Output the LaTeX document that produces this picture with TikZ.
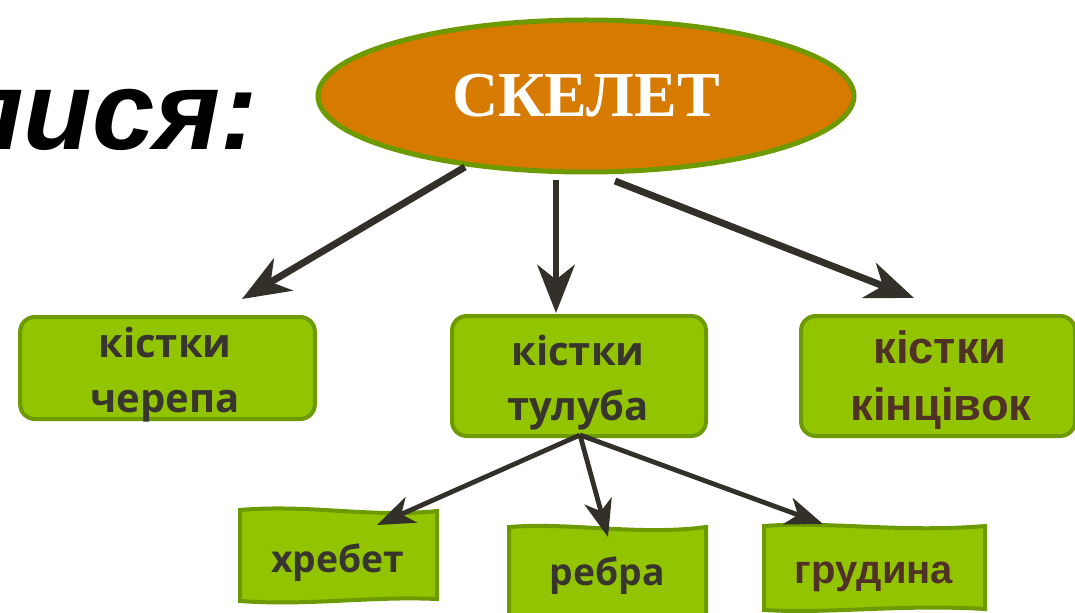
\documentclass[tikz,border=0pt]{standalone}
\usepackage{fontspec}
\setmainfont{Liberation Serif}
\newfontfamily\osans{Open Sans}
\newfontfamily\arsans{Liberation Sans}
\usetikzlibrary{shapes.geometric,arrows.meta}
\definecolor{leaf}{HTML}{93C400}
\definecolor{leafdark}{HTML}{6C9A00}
\definecolor{orangefill}{HTML}{D67A00}
\definecolor{inkdark}{HTML}{38342E}
\definecolor{inkbrown}{HTML}{4F3125}
\definecolor{arrowcol}{HTML}{33302A}
\tikzset{
  rbox/.style={draw=leafdark, fill=leaf, line width=3pt, rounded corners=11pt, inner sep=0pt},
  wbox/.style={draw=leafdark, fill=leaf, line width=3pt},
  bigarrow/.style={draw=arrowcol, line width=5.2pt, -{Stealth[length=36pt,width=28pt,inset=11pt]}},
  smallarrow/.style={draw=arrowcol, line width=3.6pt, -{Stealth[length=28pt,width=21pt,inset=8pt]}},
  lblA/.style={font=\osans\bfseries\fontsize{30pt}{36pt}\selectfont, text=inkdark, anchor=base, inner sep=0pt},
  lblB/.style={font=\arsans\bfseries\fontsize{34pt}{40pt}\selectfont, text=inkbrown, anchor=base, inner sep=0pt},
  lblC/.style={font=\osans\bfseries\fontsize{28pt}{34pt}\selectfont, text=inkdark, anchor=base, inner sep=0pt},
  lblD/.style={font=\arsans\bfseries\fontsize{30pt}{36pt}\selectfont, text=inkbrown, anchor=base, inner sep=0pt},
}
\begin{document}
\begin{tikzpicture}[x=0.75pt,y=-0.75pt]
\useasboundingbox (0,0) rectangle (1075,613);
\clip (0,0) rectangle (1075,613);
\fill[white] (0,0) rectangle (1075,613);

% title fragment
\node[font=\arsans\bfseries\itshape\fontsize{84pt}{90pt}\selectfont, anchor=base east, inner sep=0pt] (title) at (258,150) {пися:};

% main ellipse
\node[ellipse, draw=leafdark, fill=orangefill, line width=3.75pt, minimum width=402pt, minimum height=114pt, inner sep=0pt,
      text=white, font=\bfseries\fontsize{48pt}{52pt}\selectfont] (skel) at (586,96) {СКЕЛЕТ};

% first row boxes
\node[rbox, minimum width=221pt, minimum height=76.5pt] (b1) at (167.5,368) {};
\node[rbox, minimum width=190.5pt, minimum height=90pt] (b2) at (579,376) {};
\node[rbox, minimum width=205.5pt, minimum height=90pt] (b3) at (938,376) {};

\node[lblA] (b1a) at (165,357) {кістки};
\node[lblA] (b1b) at (165,412) {черепа};
\node[lblA] (b2a) at (578,365) {кістки};
\node[lblA] (b2b) at (578,420) {тулуба};
\node[lblB] (b3a) at (940,363) {кістки};
\node[lblB] (b3b) at (941,420) {кінцівок};

% second row wavy boxes
\path[wbox] (240,510) .. controls (310,504) and (370,518) .. (437,511)
  -- (437,599) .. controls (370,596) and (310,606) .. (240,601) -- cycle;
\path[wbox] (509,527) .. controls (570,522) and (640,536) .. (706,527)
  -- (706,640) -- (509,640) -- cycle;
\path[wbox] (764,526) .. controls (830,521) and (900,533) .. (985,526)
  -- (985,609) .. controls (900,604) and (830,614) .. (764,610) -- cycle;

\node[lblC] (s1) at (338,572) {хребет};
\node[lblC] (s2) at (607,585) {ребра};
\node[lblD] (s3) at (874,583) {грудина};

% connector end points
\coordinate (e1s) at (465,167);
\coordinate (e2s) at (556,180);
\coordinate (e3s) at (615,181);
\coordinate (t1) at (242,299);
\coordinate (t2) at (556,313);
\coordinate (t3) at (914,298);
\coordinate (hub) at (580,435);
\coordinate (u1) at (377,525);
\coordinate (u2) at (608,537);
\coordinate (u3) at (823,524);

\draw[bigarrow] (e1s) -- (t1);
\draw[bigarrow] (e2s) -- (t2);
\draw[bigarrow] (e3s) -- (t3);
\draw[smallarrow] (hub) -- (u1);
\draw[smallarrow] (hub) -- (u2);
\draw[smallarrow] (hub) -- (u3);
\end{tikzpicture}
\end{document}
